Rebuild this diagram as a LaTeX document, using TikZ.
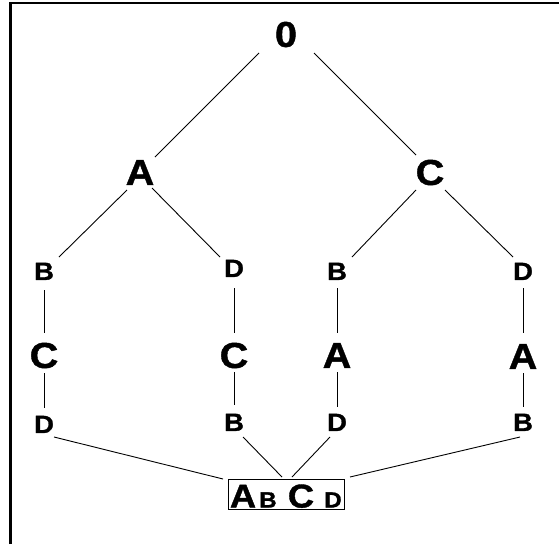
\documentclass[tikz,border=0pt]{standalone}
\usepackage{fontspec}
\setmainfont{Liberation Sans}[FakeStretch=1.1,BoldFeatures={FakeBold=1.2}]
\begin{document}
\begin{tikzpicture}[x=1pt,y=-1pt,
  big/.style={font=\fontsize{36}{36}\selectfont\bfseries, inner sep=0pt, text height=25.8pt, text depth=0pt},
  small/.style={font=\fontsize{25}{25}\selectfont\bfseries, inner sep=0pt, text height=17.9pt, text depth=0pt},
  edge/.style={line width=0.9pt},
  frameline/.style={line width=2.4pt},
  boxnode/.style={draw, line width=1pt, minimum width=116pt, minimum height=30pt, inner sep=0pt,
    text height=28.5pt, text depth=1.5pt, font=\bfseries}]
\useasboundingbox (0,0) rectangle (559,544);
\draw[frameline] (10.3,544) -- (10.3,3.2) -- (559,3.2);

\node[big] (n0) at (286,34) {0};
\node[big] (nA) at (140,172) {A};
\node[big] (nC) at (430,172) {C};
\node[small] (b1) at (44,271) {B};
\node[small] (d1) at (234,268) {D};
\node[small] (b2) at (337,271) {B};
\node[small] (d2) at (523,271) {D};
\node[big] (c1) at (44,355) {C};
\node[big] (c2) at (234,355) {C};
\node[big] (a1) at (337,355) {A};
\node[big] (a2) at (523,356) {A};
\node[small] (d3) at (44,424) {D};
\node[small] (b3) at (234,422) {B};
\node[small] (d4) at (337,422) {D};
\node[small] (b4) at (523,422) {B};
\node[boxnode] (box) at (286,494) {\makebox[28pt]{\fontsize{33}{33}\selectfont A}\makebox[22pt]{\fontsize{22}{22}\selectfont B}\makebox[44pt]{\fontsize{33}{33}\selectfont C}\makebox[20pt]{\fontsize{22}{22}\selectfont D}};

\draw[edge] ([shift={(-27,19)}]n0.center) -- ([shift={(15,-15)}]nA.center);
\draw[edge] ([shift={(28,19)}]n0.center) -- ([shift={(-14,-17)}]nC.center);
\draw[edge] ([shift={(-13,18)}]nA.center) -- ([shift={(15,-14)}]b1.center);
\draw[edge] ([shift={(12,16)}]nA.center) -- ([shift={(-14,-11)}]d1.center);
\draw[edge] ([shift={(-14,18)}]nC.center) -- ([shift={(15,-14)}]b2.center);
\draw[edge] ([shift={(15,18)}]nC.center) -- ([shift={(-10,-14)}]d2.center);

\draw[edge] ([shift={(0,19)}]b1.center) -- ([shift={(0,-22)}]c1.center);
\draw[edge] ([shift={(0,18)}]c1.center) -- ([shift={(0,-16)}]d3.center);
\draw[edge] ([shift={(0,20)}]d1.center) -- ([shift={(0,-22)}]c2.center);
\draw[edge] ([shift={(0,17)}]c2.center) -- ([shift={(0,-17)}]b3.center);
\draw[edge] ([shift={(0,17)}]b2.center) -- ([shift={(0,-22)}]a1.center);
\draw[edge] ([shift={(0,17)}]a1.center) -- ([shift={(0,-15)}]d4.center);
\draw[edge] ([shift={(0,17)}]d2.center) -- ([shift={(0,-23)}]a2.center);
\draw[edge] ([shift={(0,17)}]a2.center) -- ([shift={(0,-15)}]b4.center);

\draw[edge] ([shift={(10,13)}]d3.center) -- ([shift={(-63,-15)}]box.center);
\draw[edge] ([shift={(9,15)}]b3.center) -- ([shift={(-4,-17)}]box.center);
\draw[edge] ([shift={(-7,15)}]d4.center) -- ([shift={(6,-17)}]box.center);
\draw[edge] ([shift={(-3,15)}]b4.center) -- ([shift={(64,-17)}]box.center);
\end{tikzpicture}
\end{document}
